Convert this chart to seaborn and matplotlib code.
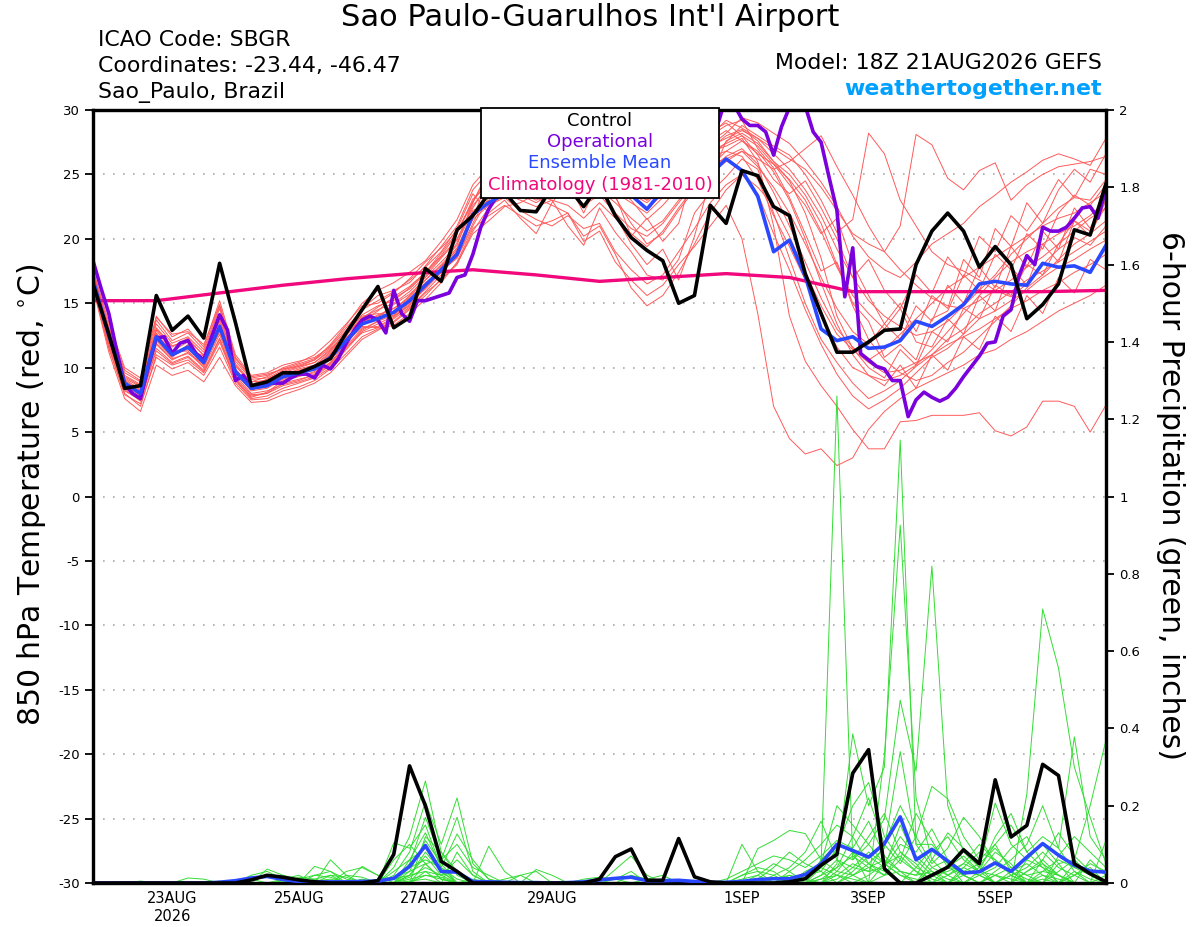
import numpy as np
import pandas as pd
import matplotlib
matplotlib.use("Agg")
import matplotlib.pyplot as plt
import seaborn as sns
from matplotlib.patches import Rectangle

# ================== data ==================
# x axis: days since 18Z 21AUG2026, GEFS is 6-hourly, operational is 3-hourly
xtick_pos = [1.25, 3.25, 5.25, 7.25, 10.25, 12.25, 14.25]
xtick_labels = ["23AUG\n2026", "25AUG", "27AUG", "29AUG", "1SEP", "3SEP", "5SEP"]

control_t = [16.5, 12.6, 8.4, 8.6, 15.6, 12.9, 14.0, 12.3, 18.1, 13.5,
             8.6, 8.9, 9.6, 9.6, 10.1, 10.7, 12.7, 14.5, 16.3, 13.1,
             13.9, 17.7, 16.7, 20.7, 21.8, 23.5, 23.6, 22.2, 22.1, 24.0,
             24.0, 22.5, 24.2, 21.8, 20.1, 19.1, 18.3, 15.0, 15.6, 22.6,
             21.2, 25.3, 24.9, 22.5, 21.8, 17.3, 14.2, 11.2, 11.2, 12.0,
             12.9, 13.0, 18.0, 20.6, 22.0, 20.6, 17.8, 19.4, 18.0, 13.8,
             14.9, 16.5, 20.7, 20.3, 24.3]

mean_t = [16.8, 12.5, 8.8, 8.0, 12.4, 11.0, 11.6, 10.4, 13.2, 9.7,
          8.4, 8.6, 9.3, 9.6, 9.9, 10.8, 12.1, 13.4, 13.8, 14.3,
          15.2, 16.4, 17.6, 18.8, 21.9, 22.8, 23.5, 23.4, 24.0, 24.2,
          24.0, 24.5, 24.5, 24.0, 23.4, 22.3, 23.8, 24.5, 24.8, 25.0,
          26.2, 25.3, 23.3, 19.0, 19.9, 17.1, 13.0, 12.1, 12.4, 11.5,
          11.6, 12.1, 13.6, 13.2, 14.0, 14.9, 16.5, 16.7, 16.5, 16.4,
          18.1, 17.8, 17.9, 17.4, 19.5]

# operational run, 3-hourly (129 values)
oper_t = [18.3, 16.2, 14.2, 11.3, 8.7, 8.0, 7.6, 10.1, 12.3, 12.4,
          11.1, 11.9, 12.1, 11.1, 10.6, 12.4, 14.1, 12.9, 9.0, 9.4,
          8.4, 8.6, 8.8, 8.8, 8.8, 9.2, 9.5, 9.5, 9.2, 10.2,
          9.9, 10.7, 11.9, 12.9, 13.7, 14.0, 13.7, 12.7, 16.0, 14.2,
          13.6, 15.2, 15.2, 15.4, 15.6, 15.8, 17.0, 17.2, 18.8, 20.9,
          22.3, 23.3, 24.0, 24.3, 24.6, 25.0, 25.3, 25.5, 25.6, 25.4,
          25.0, 24.8, 24.6, 24.5, 24.3, 24.5, 24.8, 25.0, 25.2, 25.0,
          24.6, 24.4, 24.8, 25.5, 26.0, 26.5, 27.0, 27.8, 28.4, 29.0,
          31.0, 30.4, 29.3, 28.8, 28.8, 28.3, 26.5, 28.7, 30.2, 31.0,
          30.3, 28.3, 27.5, 24.8, 22.2, 15.5, 19.3, 11.1, 10.6, 10.1,
          9.9, 9.0, 9.0, 6.2, 7.5, 8.1, 7.7, 7.4, 7.7, 8.4,
          9.3, 10.1, 10.9, 11.9, 12.0, 14.0, 14.5, 17.1, 18.7, 18.0,
          20.9, 20.6, 20.6, 20.9, 21.6, 22.4, 22.5, 21.6, 23.9]

# climatology, one value per day at 18Z
clim_t = [15.2, 15.2, 15.8, 16.4, 16.9, 17.3, 17.6, 17.2, 16.7, 17.0,
          17.3, 17.0, 15.9, 15.9, 15.9, 15.9, 16.0]

# ensemble members, 850 hPa temperature
m01 = [17.0, 12.6, 9.0, 8.2, 12.9, 11.3, 12.0, 10.6, 13.8, 9.9, 8.5, 8.7, 9.4, 9.9, 10.2, 11.2, 12.6, 13.9, 14.5, 15.0, 15.9, 17.1, 18.5, 19.9, 22.6,
       24.0, 25.0, 24.6, 24.2, 25.5, 25.8, 24.6, 25.2, 24.8, 23.5, 22.8, 24.0, 25.5, 26.2, 27.0,
       28.0, 28.5, 27.6, 26.0, 24.5, 22.0, 18.5, 14.0, 11.5, 10.0, 9.2, 11.4, 10.2, 12.8, 12.0, 14.6, 13.8, 16.4, 15.6, 18.0, 17.2, 19.6, 21.4, 20.6, 22.5]
m02 = [16.6, 12.0, 8.5, 7.6, 11.8, 10.6, 11.2, 10.0, 12.6, 9.2, 7.9, 8.0, 8.8, 9.1, 9.4, 10.3, 11.7, 13.0, 13.6, 14.4, 15.6, 17.0, 18.2, 19.5, 22.9,
       24.6, 25.6, 25.0, 23.8, 24.3, 25.0, 24.0, 24.8, 24.0, 23.0, 21.5, 22.6, 24.0, 25.4, 26.3,
       27.5, 28.8, 28.0, 27.2, 26.5, 25.0, 23.0, 20.5, 21.5, 28.2, 26.6, 23.0, 21.0, 19.0, 18.0, 17.5, 16.8, 16.0, 15.5, 16.5, 18.0, 19.2, 20.1, 19.5, 21.0]
m03 = [17.2, 12.9, 9.4, 8.7, 13.4, 11.9, 12.4, 11.2, 14.6, 10.5, 9.1, 9.2, 9.8, 10.2, 10.6, 11.5, 12.4, 13.2, 13.1, 13.5, 14.5, 15.6, 16.9, 18.0, 20.6,
       22.4, 23.5, 23.0, 22.5, 23.0, 21.0, 19.5, 22.4, 20.5, 19.0, 17.2, 16.8, 18.4, 22.0, 23.6,
       24.8, 26.2, 25.4, 22.0, 18.5, 15.0, 12.2, 10.4, 8.8, 7.6, 8.2, 9.0, 10.1, 11.0, 12.2, 13.0, 14.2, 15.0, 15.9, 16.8, 17.5, 18.2, 19.0, 19.8, 20.6]
m04 = [16.4, 11.6, 8.0, 7.0, 11.0, 10.2, 10.6, 9.6, 12.0, 9.0, 7.6, 7.8, 8.4, 8.8, 9.2, 10.0, 11.4, 12.8, 13.4, 14.0, 15.0, 16.3, 17.8, 19.2, 21.7,
       23.8, 24.8, 25.3, 24.8, 25.2, 24.6, 25.4, 26.0, 25.4, 24.6, 24.0, 25.0, 25.8, 27.0, 28.0,
       28.8, 29.2, 27.0, 25.5, 23.2, 20.4, 17.5, 18.2, 15.0, 13.6, 10.8, 11.8, 10.6, 13.8, 14.4, 17.2, 16.0, 18.8, 17.6, 20.4, 19.2, 22.0, 23.4, 22.6, 24.2]
m05 = [17.4, 13.2, 9.8, 9.0, 14.0, 12.4, 13.0, 11.6, 15.2, 11.0, 9.4, 9.6, 10.2, 10.5, 10.8, 11.6, 12.9, 14.6, 15.6, 16.0, 16.6, 17.9, 19.4, 21.0, 23.8,
       25.2, 26.0, 25.4, 25.0, 24.6, 24.2, 24.8, 25.6, 25.0, 24.0, 23.5, 24.5, 26.0, 27.2, 28.3,
       29.0, 28.0, 26.5, 24.6, 23.5, 24.5, 22.4, 20.0, 17.0, 15.2, 14.0, 13.2, 12.5, 12.8, 13.6, 14.8, 16.0, 17.2, 18.8, 20.0, 21.2, 22.4, 23.2, 23.0, 24.6]
m06 = [16.9, 12.3, 8.6, 7.9, 12.5, 10.9, 11.5, 10.2, 12.9, 9.5, 8.3, 8.6, 9.6, 10.0, 10.4, 11.4, 12.8, 14.0, 14.2, 14.0, 14.8, 16.2, 17.5, 19.0, 21.5,
       22.6, 23.2, 22.2, 21.5, 21.0, 21.8, 20.8, 21.2, 19.0, 17.6, 16.5, 17.2, 19.0, 20.8, 22.8,
       24.2, 25.0, 23.5, 20.4, 17.6, 14.5, 11.8, 9.5, 7.8, 6.8, 7.5, 8.4, 9.6, 10.8, 11.5, 12.6, 13.8, 14.4, 15.2, 16.0, 17.0, 17.8, 18.4, 19.2, 19.9]
m07 = [16.2, 11.2, 7.6, 6.6, 10.2, 9.4, 9.8, 8.9, 10.8, 8.6, 7.3, 7.4, 7.9, 8.3, 8.8, 9.6, 10.9, 12.2, 12.9, 13.6, 14.6, 15.8, 16.8, 18.1, 20.4,
       21.4, 22.5, 22.8, 23.5, 24.4, 25.0, 25.6, 25.0, 24.2, 23.8, 23.0, 24.2, 25.0, 26.0, 26.8,
       27.2, 27.8, 26.0, 21.0, 14.0, 10.5, 8.6, 7.0, 5.2, 3.7, 3.7, 5.8, 5.9, 6.3, 6.3, 6.3, 6.5, 5.1, 4.7, 5.4, 7.4, 7.4, 7.0, 5.0, 7.1]
m08 = [17.6, 13.5, 10.0, 9.2, 13.9, 12.6, 12.8, 11.8, 14.9, 10.8, 9.3, 9.5, 9.9, 10.1, 10.6, 11.8, 13.3, 15.0, 16.0, 16.6, 17.4, 18.3, 19.8, 21.5, 24.2,
       25.6, 26.2, 25.8, 25.4, 25.0, 24.8, 24.6, 24.2, 23.6, 22.8, 22.0, 23.2, 24.6, 25.8, 27.2,
       28.2, 29.4, 29.0, 28.2, 27.4, 26.0, 24.4, 22.5, 20.2, 18.6, 17.6, 17.0, 18.2, 19.6, 20.4, 21.2, 22.5, 23.4, 24.4, 25.2, 26.1, 26.6, 26.2, 25.7, 27.8]
m09 = [16.7, 12.1, 8.7, 7.8, 12.1, 10.8, 11.8, 10.4, 13.4, 9.8, 8.6, 8.8, 9.2, 9.4, 9.6, 10.4, 11.9, 13.3, 13.9, 14.9, 15.7, 16.8, 17.9, 19.1, 21.9,
       23.0, 24.2, 24.0, 23.2, 22.6, 22.0, 19.8, 20.6, 18.2, 16.8, 15.6, 16.4, 18.0, 19.4, 21.0,
       22.6, 20.0, 14.2, 7.0, 4.5, 3.3, 3.7, 2.4, 3.0, 5.2, 6.6, 7.6, 8.4, 9.0, 9.6, 10.2, 11.0, 11.4, 12.2, 12.8, 13.6, 14.4, 15.0, 15.6, 16.4]
m10 = [17.1, 12.7, 9.1, 8.3, 12.7, 11.1, 11.4, 10.9, 13.6, 10.1, 8.9, 9.0, 9.6, 9.7, 10.0, 11.0, 12.2, 13.6, 14.4, 15.5, 16.3, 17.4, 18.7, 20.4, 23.1,
       24.2, 25.2, 24.4, 23.6, 24.0, 24.6, 25.2, 26.0, 25.6, 24.8, 24.2, 24.8, 25.6, 26.4, 27.2,
       27.8, 28.4, 27.8, 26.6, 25.4, 23.8, 21.8, 19.2, 17.0, 18.4, 16.0, 14.6, 17.2, 15.8, 18.6, 17.0, 20.2, 19.0, 21.8, 20.6, 22.4, 24.6, 23.2, 25.4, 25.0]
m11 = [16.5, 11.9, 8.3, 7.4, 11.5, 10.4, 10.9, 9.8, 12.3, 9.1, 7.7, 8.1, 9.0, 9.3, 9.7, 10.6, 12.0, 13.1, 13.2, 13.9, 14.9, 16.2, 17.7, 19.7, 22.2,
       22.8, 23.8, 23.4, 22.8, 23.6, 24.0, 23.2, 23.8, 22.8, 21.6, 20.6, 21.4, 23.0, 24.2, 25.4,
       26.4, 27.0, 25.8, 23.6, 21.0, 18.2, 15.4, 13.0, 11.6, 10.6, 11.4, 12.6, 13.8, 15.0, 16.2, 17.0, 17.8, 18.6, 19.4, 20.2, 21.0, 21.6, 22.0, 22.8, 23.6]
m12 = [17.3, 12.8, 9.3, 8.6, 13.1, 11.7, 12.1, 11.0, 14.2, 10.3, 8.9, 9.3, 10.0, 10.4, 11.0, 12.1, 13.4, 14.8, 15.0, 15.8, 16.9, 18.2, 19.3, 20.6, 22.9,
       25.0, 25.8, 26.0, 25.6, 25.2, 24.2, 23.6, 24.4, 21.8, 19.6, 18.0, 19.2, 16.8, 20.2, 24.6,
       27.6, 28.2, 27.4, 26.0, 25.0, 23.4, 21.2, 18.0, 14.8, 12.2, 10.6, 9.6, 9.0, 9.4, 10.4, 11.2, 12.4, 13.6, 14.8, 16.2, 17.2, 18.4, 19.6, 20.4, 21.4]
m13 = [16.3, 11.5, 7.9, 7.2, 10.8, 9.9, 10.4, 9.4, 11.6, 8.8, 7.5, 7.6, 8.2, 8.5, 9.0, 9.9, 11.1, 12.4, 13.0, 13.3, 14.2, 15.3, 16.6, 18.2, 20.8,
       21.8, 22.6, 21.8, 21.0, 21.4, 22.0, 20.2, 21.0, 18.8, 16.2, 14.8, 15.6, 17.4, 19.6, 22.0,
       23.8, 25.0, 24.0, 22.6, 20.2, 17.4, 14.8, 12.6, 11.4, 10.4, 9.6, 9.8, 10.4, 11.0, 11.8, 12.4, 13.0, 13.8, 14.6, 15.2, 16.0, 16.6, 17.4, 18.0, 18.8]
m14 = [16.8, 12.2, 8.8, 8.1, 12.3, 11.0, 11.7, 10.5, 13.0, 9.6, 8.2, 8.4, 9.1, 9.5, 9.9, 10.9, 12.5, 13.8, 14.7, 15.4, 16.1, 17.3, 18.6, 20.0, 22.4,
       24.4, 25.4, 24.8, 24.4, 25.0, 25.6, 24.6, 25.4, 24.6, 23.4, 22.4, 23.4, 24.8, 26.0, 26.8,
       27.4, 28.0, 27.2, 25.8, 24.2, 22.6, 20.4, 21.6, 18.0, 15.6, 13.4, 15.0, 12.8, 15.6, 14.6, 18.4, 17.0, 20.8, 19.4, 22.8, 21.2, 23.8, 25.4, 24.4, 26.6]
m15 = [17.0, 12.5, 8.9, 8.0, 12.6, 11.2, 11.3, 10.1, 13.3, 9.7, 8.5, 8.7, 9.4, 9.8, 10.1, 11.1, 12.3, 13.5, 14.1, 14.6, 15.4, 16.6, 17.5, 18.5, 21.0,
       23.2, 24.4, 24.8, 25.2, 25.8, 26.0, 25.0, 24.6, 23.2, 21.2, 19.6, 20.4, 22.2, 23.8, 25.0,
       26.0, 26.8, 26.2, 25.4, 26.0, 27.0, 28.0, 25.6, 23.4, 21.0, 19.0, 17.6, 16.4, 15.4, 14.8, 14.6, 15.2, 16.0, 16.8, 17.8, 18.6, 19.6, 20.6, 21.6, 22.4]
m16 = [16.6, 12.0, 8.4, 7.7, 11.9, 10.7, 11.1, 10.3, 12.8, 9.4, 8.0, 8.2, 8.7, 9.0, 9.5, 10.4, 11.6, 12.7, 13.1, 13.8, 14.7, 15.9, 17.2, 18.9, 21.6,
       24.8, 25.8, 25.4, 24.6, 24.2, 23.8, 24.2, 25.0, 24.4, 23.6, 23.0, 24.0, 25.2, 26.6, 27.6,
       28.4, 27.6, 26.6, 25.8, 24.6, 23.0, 20.6, 17.8, 15.6, 14.2, 13.0, 14.6, 12.0, 11.6, 13.8, 12.6, 15.6, 14.4, 17.8, 16.4, 19.6, 18.2, 21.4, 20.2, 23.0]
m17 = [17.5, 13.1, 9.6, 8.9, 13.7, 12.1, 12.7, 11.4, 14.8, 10.7, 9.2, 9.4, 9.9, 10.3, 10.7, 11.7, 13.1, 14.5, 15.2, 15.9, 16.8, 17.8, 19.0, 20.8, 23.5,
       22.0, 23.0, 21.6, 20.4, 22.8, 24.4, 22.0, 24.6, 23.4, 20.2, 21.6, 19.8, 21.2, 25.6, 26.4,
       26.8, 26.4, 24.6, 21.8, 19.4, 16.8, 14.0, 11.6, 10.0, 9.4, 9.0, 9.4, 10.2, 11.4, 12.8, 14.2, 15.6, 17.0, 18.2, 19.0, 19.6, 20.4, 21.0, 21.8, 23.0]
m18 = [16.4, 11.8, 8.2, 7.5, 11.3, 10.3, 10.8, 9.7, 12.2, 9.0, 7.8, 8.0, 8.6, 8.9, 9.3, 10.2, 11.5, 12.9, 13.6, 14.1, 15.1, 16.1, 17.4, 18.6, 21.2,
       23.6, 24.6, 24.2, 23.4, 23.0, 22.6, 21.6, 22.8, 21.6, 20.4, 19.4, 20.6, 22.4, 24.0, 25.6,
       26.8, 27.6, 26.8, 25.2, 23.0, 20.0, 16.6, 13.4, 11.0, 9.4, 8.6, 10.2, 8.4, 11.0, 9.8, 12.4, 11.4, 14.0, 12.8, 15.6, 14.2, 17.0, 15.8, 18.4, 17.6]
m19 = [17.2, 12.8, 9.2, 8.5, 13.0, 11.6, 12.3, 10.9, 14.0, 10.2, 8.7, 9.1, 9.7, 10.1, 10.4, 11.3, 12.7, 14.1, 14.8, 15.2, 16.2, 17.4, 18.9, 20.5, 22.8,
       25.4, 26.2, 25.6, 25.2, 24.8, 25.2, 25.8, 25.2, 24.6, 24.2, 23.6, 24.6, 25.8, 27.0, 28.0,
       29.2, 28.6, 27.8, 27.0, 26.2, 25.4, 24.0, 22.2, 20.4, 19.6, 19.0, 21.0, 28.1, 27.3, 24.7, 23.8, 25.3, 25.9, 23.0, 24.2, 25.0, 25.6, 25.8, 26.0, 26.4]
m20 = [16.7, 12.2, 8.6, 7.9, 12.2, 10.9, 11.6, 10.3, 13.1, 9.6, 8.3, 8.5, 9.2, 9.6, 10.0, 10.9, 12.2, 13.6, 14.0, 14.6, 15.5, 16.8, 18.0, 19.3, 22.0,
       23.4, 24.0, 23.6, 23.0, 23.6, 24.2, 22.6, 23.4, 22.0, 20.8, 20.2, 21.2, 22.8, 24.4, 25.8,
       26.2, 26.8, 25.6, 24.0, 22.0, 19.6, 17.0, 14.6, 12.8, 11.8, 13.4, 12.2, 14.8, 13.6, 16.4, 15.0, 17.8, 16.2, 19.4, 17.8, 20.6, 19.2, 22.4, 20.8, 23.6]

# 6-hour precipitation (inches)
control_p = [0, 0, 0, 0, 0, 0, 0, 0, 0, 0,
             .008, .02, .015, .008, .003, 0, 0, 0, .006, .074,
             .303, .2, .056, .03, 0, 0, 0, 0, 0, 0,
             0, 0, .01, .068, .088, .007, .007, .115, .016, .003,
             0, 0, 0, 0, .003, .011, .046, .074, .284, .345,
             .037, 0, 0, .02, .041, .086, .05, .267, .119, .149,
             .307, .278, .05, .024, .003]
mean_p = [0, 0, 0, 0, 0, 0, 0, 0, .002, .006,
          .013, .017, .009, .004, .003, .003, .003, .004, .005, .012,
          .043, .097, .03, .028, .004, .003, .002, .001, .001, 0,
          .001, .003, .008, .012, .015, .006, .006, .007, .004, .001,
          .002, .004, .009, .011, .011, .022, .05, .1, .084, .067,
          .102, .171, .06, .087, .057, .026, .029, .052, .03, .067,
          .102, .072, .046, .031, .028]

p01 = [0, 0, 0, .005, 0, 0, 0, 0, 0, 0,
       0, 0, 0, .01, .02, .015, 0, 0, 0, .04,
       .12, .264, .08, .02, 0, 0, 0, 0, 0, 0,
       0, 0, 0, .01, .03, 0, 0, 0, 0, 0,
       0, .01, .02, 0, 0, .03, .05, 1.26, .06, .1,
       .05, .02, 0, .04, .06, .02, 0, 0, .03, .05,
       .02, .01, 0, 0, 0]
p02 = [0, 0, 0, 0, 0, 0, 0, 0, 0, 0,
       .02, .03, .01, 0, 0, 0, 0, 0, 0, .02,
       .08, .21, .1, .22, .05, .01, 0, 0, 0, 0,
       0, 0, 0, 0, 0, 0, 0, 0, 0, 0,
       0, .1, .03, 0, .02, 0, 0, .05, .386, .2,
       .3, 1.146, .1, .1, .05, 0, .03, .08, .05, 0,
       .02, 0, 0, 0, 0]
p03 = [0, 0, 0, 0, 0, 0, .013, .01, 0, 0,
       0, 0, 0, 0, .043, .03, 0, 0, 0, 0,
       .05, .17, .06, .17, .03, 0, 0, 0, 0, 0,
       0, 0, 0, 0, 0, 0, 0, 0, 0, 0,
       0, 0, .089, .11, .136, .128, .06, .1, .08, 0,
       .33, .926, .22, .06, .02, 0, 0, 0, 0, .23,
       .709, .556, .3, .17, .05]
p04 = [0, 0, 0, 0, 0, 0, 0, 0, 0, 0,
       0, 0, 0, 0, 0, .06, .02, 0, 0, .104,
       .09, .15, .04, .127, .06, .01, 0, 0, 0, 0,
       0, 0, 0, 0, 0, 0, 0, 0, 0, 0,
       0, 0, 0, 0, 0, .02, .05, .2, .15, .1,
       .166, .473, .29, .82, .2, .08, .04, .207, .1, .06,
       .04, .02, 0, 0, 0]
p05 = [0, 0, 0, 0, 0, 0, 0, 0, 0, 0,
       0, 0, 0, 0, 0, 0, 0, .043, .02, 0,
       .03, .11, .05, 0, 0, .095, .03, 0, 0, 0,
       0, 0, 0, 0, 0, 0, 0, 0, 0, 0,
       0, 0, 0, 0, .03, .06, .1, .15, .12, .22,
       .1, .05, .12, .25, .218, .12, .06, .1, .15, .08,
       .12, .09, .378, .12, .06]
p06 = [0, 0, 0, 0, 0, 0, 0, 0, 0, 0,
       0, .036, .02, .01, 0, 0, 0, 0, 0, .03,
       .06, .09, .03, 0, 0, 0, 0, 0, .035, .02,
       0, 0, 0, 0, 0, 0, 0, 0, 0, 0,
       0, .02, .04, .03, 0, 0, .04, .08, .06, .12,
       .18, .08, .05, 0, 0, .04, .08, .06, .03, 0,
       0, .05, .06, .2, .37]
p07 = [0, 0, 0, 0, 0, 0, 0, 0, 0, 0,
       0, 0, 0, 0, .02, .03, .01, 0, 0, 0,
       .02, .07, .02, .06, .02, 0, 0, 0, 0, 0,
       0, 0, 0, .035, .07, .02, 0, 0, 0, 0,
       .01, .03, .05, .07, .06, .04, .07, .11, .09, .16,
       .07, .03, 0, .06, .13, .09, .04, 0, 0, .06,
       .1, .05, 0, 0, .11]
p08 = [0, 0, 0, 0, 0, 0, 0, 0, 0, 0,
       0, 0, 0, .015, .01, 0, 0, 0, 0, .06,
       .1, .05, .01, 0, 0, 0, 0, .02, .03, 0,
       0, 0, 0, 0, 0, 0, 0, 0, 0, 0,
       0, 0, 0, 0, 0, 0, .02, .06, .04, .03,
       .1, .2, .12, .05, .09, .17, .12, .05, .03, 0,
       .06, .13, .07, .03, 0]
p09 = [0, 0, .003, 0, 0, 0, 0, 0, .005, 0,
       0, 0, 0, 0, 0, 0, .03, .04, .02, 0,
       0, .12, .08, .03, 0, 0, 0, 0, 0, 0,
       0, 0, 0, 0, 0, .01, .02, 0, 0, 0,
       0, 0, 0, .02, .04, .08, .16, .06, .02, 0,
       .05, .12, .07, .03, 0, 0, .02, .04, .09, .12,
       .05, 0, .02, .04, 0]
p10 = [0, 0, 0, 0, 0, 0, 0, 0, 0, 0,
       0, 0, .01, .02, 0, 0, 0, 0, 0, 0,
       .015, .04, .02, .03, 0, 0, 0, 0, 0, 0,
       0, 0, 0, 0, 0, 0, 0, 0, 0, 0,
       0, 0, 0, 0, 0, 0, 0, .03, .08, .05,
       .02, .06, .18, .11, .04, .02, 0, .03, .06, .1,
       .2, .09, .03, 0, 0]
p11 = [0, 0, 0, 0, 0, 0, 0, 0, 0, 0,
       0, 0, 0, 0, 0, .02, .015, 0, 0, 0,
       .04, .06, .04, .01, 0, 0, 0, 0, 0, 0,
       0, 0, 0, 0, 0, 0, 0, 0, 0, 0,
       0, 0, .01, .04, .08, .05, .03, 0, .03, .07,
       .04, .1, .08, .14, .06, .03, .02, 0, .02, .04,
       .08, .04, .02, 0, 0]
p12 = [0, 0, 0, 0, 0, 0, 0, 0, 0, 0,
       0, 0, 0, 0, 0, 0, 0, 0, .01, .015,
       .03, .05, .01, 0, 0, 0, 0, 0, 0, 0,
       0, 0, 0, 0, .02, .01, 0, 0, 0, 0,
       0, 0, 0, 0, 0, 0, .01, .04, .12, .05,
       .09, .34, .1, .04, .02, .05, .1, .06, .02, 0,
       0, .03, .06, .02, 0]
p13 = [0, 0, 0, 0, 0, 0, 0, 0, 0, 0,
       0, 0, 0, 0, .01, .02, 0, 0, 0, 0,
       0, .03, .02, 0, .01, 0, 0, 0, 0, 0,
       0, 0, 0, 0, 0, 0, 0, 0, 0, 0,
       0, .02, .03, .02, 0, 0, .06, .03, .02, .04,
       .06, .03, .02, .08, .12, .06, .03, .02, 0, .03,
       .05, .02, 0, .06, .02]
p14 = [0, 0, 0, 0, 0, 0, 0, 0, 0, .005,
       .01, 0, 0, 0, 0, 0, 0, 0, 0, 0,
       .02, .03, 0, .08, .02, 0, 0, 0, 0, 0,
       0, 0, 0, 0, 0, 0, 0, 0, 0, 0,
       0, 0, 0, 0, .01, .02, .03, .09, .2, .26,
       .12, .06, .03, 0, .04, .07, .03, .12, .18, .08,
       .04, 0, .03, .01, 0]
p15 = [0, 0, 0, 0, 0, 0, 0, 0, 0, 0,
       0, 0, 0, 0, 0, 0, .02, .015, 0, 0,
       .06, .13, .04, 0, 0, 0, .01, .02, 0, 0,
       0, 0, 0, 0, 0, 0, 0, 0, 0, 0,
       0, 0, 0, .01, .02, .01, 0, .02, .05, .03,
       .04, .15, .06, .02, 0, .03, .05, .09, .04, .02,
       0, .07, .12, .08, .04]
p16 = [0, 0, 0, 0, 0, 0, 0, 0, 0, 0,
       0, 0, .005, 0, 0, 0, 0, 0, 0, .01,
       .02, .08, .03, 0, 0, 0, 0, 0, 0, 0,
       0, .01, .015, .01, 0, 0, 0, 0, 0, 0,
       0, 0, 0, 0, 0, 0, 0, 0, .02, .05,
       .03, 0, .04, .09, .05, .02, 0, .02, .04, .02,
       .03, .06, .04, .02, 0]
p17 = [0, 0, 0, 0, 0, 0, 0, 0, 0, 0,
       0, 0, 0, 0, 0, 0, 0, .01, 0, 0,
       0, .02, .01, 0, 0, 0, 0, 0, 0, 0,
       0, 0, 0, 0, 0, 0, 0, 0, 0, 0,
       0, 0, .02, .05, .03, 0, .02, .04, .07, .04,
       .02, .08, .04, .02, .03, .05, .03, 0, .02, 0,
       .03, .02, 0, 0, .02]
p18 = [0, 0, 0, 0, 0, 0, 0, 0, 0, 0,
       0, 0, 0, 0, 0, 0, 0, 0, 0, 0,
       .01, .02, .015, 0, 0, 0, 0, 0, 0, 0,
       0, 0, 0, 0, 0, 0, 0, 0, 0, 0,
       0, 0, 0, 0, 0, .02, .04, .02, 0, .02,
       .05, .07, .03, .01, 0, .02, .04, .1, .03, .01,
       0, 0, .05, .03, 0]
p19 = [0, 0, 0, 0, 0, 0, 0, 0, 0, 0,
       0, 0, 0, 0, .005, .01, 0, 0, 0, 0,
       0, .05, .06, .1, .04, .02, 0, 0, 0, 0,
       0, 0, 0, 0, 0, 0, 0, 0, 0, 0,
       0, 0, 0, 0, 0, 0, 0, .01, .04, .08,
       .05, .02, .01, 0, .02, .04, .02, 0, 0, .03,
       .06, .02, 0, 0, 0]
p20 = [0, 0, 0, 0, .003, 0, 0, 0, 0, 0,
       0, 0, 0, 0, 0, 0, 0, 0, 0, 0,
       .005, .01, 0, 0, 0, 0, 0, 0, 0, 0,
       0, 0, 0, 0, 0, 0, 0, 0, 0, 0,
       0, 0, 0, 0, 0, 0, .01, .02, .01, 0,
       .02, .03, .02, .03, .01, 0, 0, .02, .01, 0,
       .01, 0, .02, .05, .03]

temp_members = [m01, m02, m03, m04, m05, m06, m07, m08, m09, m10,
                m11, m12, m13, m14, m15, m16, m17, m18, m19, m20]
precip_members = [p01, p02, p03, p04, p05, p06, p07, p08, p09, p10,
                  p11, p12, p13, p14, p15, p16, p17, p18, p19, p20]
# ==========================================

RED = "#ff5a5a"
GREEN = "#33dd33"
PURPLE = "#7a00dc"
BLUE = "#2a48ff"
PINK = "#f0087c"


def days(vals, step):
    return np.arange(len(vals)) * step


def long_frame(members, col):
    rows = []
    for k, vals in enumerate(members):
        for x, v in zip(days(vals, 0.25), vals):
            rows.append({"x": x, col: v, "member": k})
    return pd.DataFrame(rows)


sns.set_style("white")
plt.rcParams['font.family'] = ['DejaVu Sans']
plt.rcParams['axes.unicode_minus'] = False
for key in ("text.color", "axes.labelcolor", "xtick.color", "ytick.color"):
    plt.rcParams[key] = "black"

fig = plt.figure(figsize=(12, 9.27), dpi=100)
ax = fig.add_axes([93 / 1200, 1 - 883 / 927, 1013 / 1200, 773 / 927])
ax2 = ax.twinx()

# temperature (left axis)
df_t = long_frame(temp_members, "temp")
sns.lineplot(data=df_t, x="x", y="temp", units="member", estimator=None,
             color=RED, linewidth=0.7, ax=ax, legend=False, zorder=2)
sns.lineplot(x=days(clim_t, 1.0), y=clim_t, color=PINK, linewidth=2.4, ax=ax, zorder=4)
sns.lineplot(x=days(oper_t, 0.125), y=oper_t, color=PURPLE, linewidth=2.6, ax=ax, zorder=5)
sns.lineplot(x=days(mean_t, 0.25), y=mean_t, color=BLUE, linewidth=2.6, ax=ax, zorder=6)
sns.lineplot(x=days(control_t, 0.25), y=control_t, color="black", linewidth=2.6, ax=ax, zorder=7)

# precipitation (right axis)
df_p = long_frame(precip_members, "precip")
sns.lineplot(data=df_p, x="x", y="precip", units="member", estimator=None,
             color=GREEN, linewidth=0.7, ax=ax2, legend=False, zorder=2)
sns.lineplot(x=days(mean_p, 0.25), y=mean_p, color=BLUE, linewidth=2.6, ax=ax2, zorder=4)
sns.lineplot(x=days(control_p, 0.25), y=control_p, color="black", linewidth=2.6, ax=ax2, zorder=5)

ax.set_xlim(0, 16)
ax.set_ylim(-30, 30)
ax.set_yticks(range(-30, 31, 5))
ax.set_xticks(xtick_pos)
ax.set_xticklabels(xtick_labels)
ax.grid(axis="y", color="#aaaaaa", linestyle=(0, (1, 5)), linewidth=1.2)
ax.grid(axis="x", visible=False)
ax.tick_params(axis="x", length=0, pad=6, labelsize=10.5)
ax.tick_params(axis="y", direction="out", length=6, width=1.3, labelsize=9.5, left=True)
ax.set_xlabel("")
ax.set_ylabel("")

ax2.set_ylim(0, 2)
pticks = np.round(np.arange(0, 2.01, 0.2), 1)
ax2.set_yticks(pticks)
ax2.set_yticklabels([f"{t:g}" for t in pticks])
ax2.tick_params(axis="y", direction="out", length=6, width=1.3, labelsize=9.5, right=True)
ax2.set_ylabel("")
ax2.grid(False)

for a in (ax, ax2):
    for s in a.spines.values():
        s.set_linewidth(2.3)
        s.set_color("black")

# axis titles
fig.text(0.026, 0.466, "850 hPa Temperature (red, $^{\\circ}$C)", rotation=90,
         ha="center", va="center", fontsize=21.5)
fig.text(0.975, 0.466, "6-hour Precipitation (green, inches)", rotation=270,
         ha="center", va="center", fontsize=21.5)

# header
fig.text(0.4917, 0.981, "Sao Paulo-Guarulhos Int'l Airport", ha="center", va="center", fontsize=22)
fig.text(0.0817, 0.9565, "ICAO Code: SBGR", ha="left", va="center", fontsize=15.8)
fig.text(0.0817, 0.9285, "Coordinates: -23.44, -46.47", ha="left", va="center", fontsize=15.8)
fig.text(0.0817, 0.9, "Sao_Paulo, Brazil", ha="left", va="center", fontsize=15.8)
fig.text(0.9183, 0.932, "Model: 18Z 21AUG2026 GEFS", ha="right", va="center", fontsize=15.8)
fig.text(0.9183, 0.904, "weathertogether.net", ha="right", va="center", fontsize=15.8,
         fontweight="bold", color="#00a0ff")

# legend box
fig.patches.append(Rectangle((481 / 1200, 1 - 198 / 927), 238 / 1200, 90 / 927,
                             transform=fig.transFigure, facecolor="white",
                             edgecolor="black", linewidth=1.3, zorder=10))
for label, color, ypix in [("Control", "black", 121),
                           ("Operational", PURPLE, 142),
                           ("Ensemble Mean", BLUE, 163),
                           ("Climatology (1981-2010)", PINK, 185)]:
    fig.text(0.5, 1 - ypix / 927, label, ha="center", va="center", fontsize=13,
             color=color, zorder=11)

fig.savefig("out.png", dpi=100)
